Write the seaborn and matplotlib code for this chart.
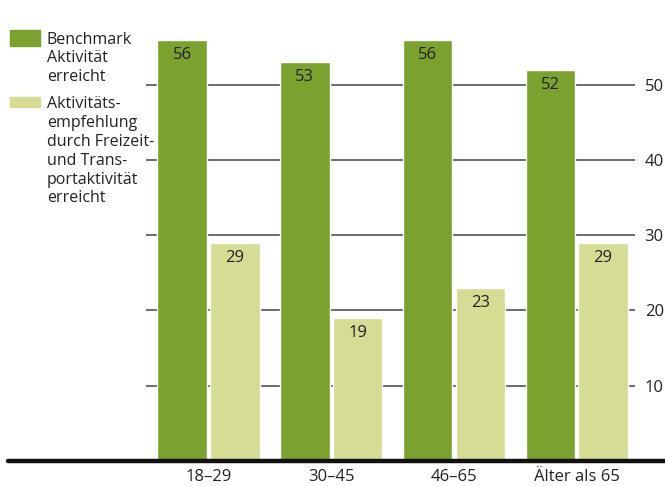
import matplotlib
matplotlib.use("Agg")
import matplotlib.pyplot as plt
import seaborn as sns
import pandas as pd
from matplotlib.lines import Line2D
from matplotlib.patches import Rectangle

categories = ["18–29", "30–45", "46–65", "Älter als 65"]
series_names = ["Benchmark\nAktivität\nerreicht",
                "Aktivitäts-\nempfehlung\ndurch Freizeit-\nund Trans-\nportaktivität\nerreicht"]
benchmark = [56, 53, 56, 52]
empfehlung = [29, 19, 23, 29]
yticks = [10, 20, 30, 40, 50]
colors = ["#7ba22f", "#d7dc94"]

df = pd.DataFrame({
    "cat": categories * 2,
    "val": benchmark + empfehlung,
    "series": [series_names[0]] * 4 + [series_names[1]] * 4,
})

sns.set_style("white")
plt.rcParams["font.family"] = ["Open Sans", "DejaVu Sans"]

W, H = 665, 486
fig = plt.figure(figsize=(W / 100, H / 100), dpi=100)
ax = fig.add_axes([146 / W, 25 / H, (635 - 146) / W, (461 - 9.5) / H])

sns.barplot(data=df, x="cat", y="val", hue="series", palette=colors,
            width=0.86, gap=0.06, saturation=1, ax=ax, legend=False, zorder=3)

ax.set_xlim(-0.51, 3.475)
ax.set_ylim(0, 60)
for t in yticks:
    ax.axhline(t, color="#6a6a6a", lw=1.4, zorder=1)
ax.set_yticks(yticks)
ax.yaxis.tick_right()
ax.tick_params(axis="y", length=0, pad=7, labelsize=12, labelcolor="#222222")
ax.tick_params(axis="x", length=0, pad=6, labelsize=12, labelcolor="#222222")
ax.set_xlabel("")
ax.set_ylabel("")
for s in ax.spines.values():
    s.set_visible(False)

for cont in ax.containers:
    for bar in cont:
        h = bar.get_height()
        ax.annotate(f"{h:.0f}", (bar.get_x() + bar.get_width() / 2, h),
                    xytext=(0, -5), textcoords="offset points",
                    ha="center", va="top", fontsize=12, color="#222222", zorder=4)

# baseline
fig.add_artist(Line2D([8 / W, 1.0], [25 / H, 25 / H], color="#111111", lw=3.2,
                      transform=fig.transFigure))

# legend
fig.add_artist(Rectangle((10 / W, (H - 46) / H), 30 / W, 16 / H,
                         color=colors[0], transform=fig.transFigure))
fig.text(47 / W, (H - 32) / H, series_names[0], ha="left", va="top",
         fontsize=11.5, color="#222222", linespacing=1.2)
fig.add_artist(Rectangle((10 / W, (H - 107) / H), 30 / W, 10 / H,
                         color=colors[1], transform=fig.transFigure))
fig.text(47 / W, (H - 96) / H, series_names[1], ha="left", va="top",
         fontsize=11.5, color="#222222", linespacing=1.24)

fig.savefig("out.png", dpi=100)
